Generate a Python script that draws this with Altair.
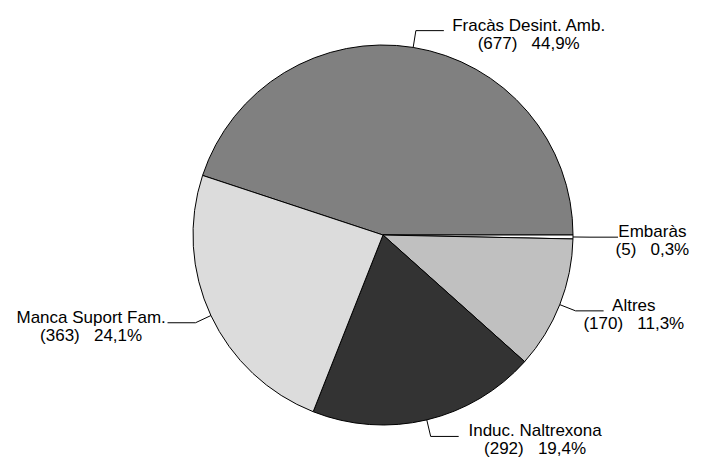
import math
import altair as alt
import pandas as pd

# ---- data ----
names = ["Fracàs Desint. Amb.", "Embaràs", "Altres", "Induc. Naltrexona", "Manca Suport Fam."]
counts = [677, 5, 170, 292, 363]
pcts = [44.9, 0.3, 11.3, 19.4, 24.1]
colors = ["#808080", "#ffffff", "#c0c0c0", "#333333", "#dcdcdc"]

line2 = [f"({n})" + "\u00a0" * 3 + f"{p:.1f}".replace(".", ",") + "%" for n, p in zip(counts, pcts)]
df = pd.DataFrame({"name": names, "n": counts, "pct": pcts, "line2": line2, "idx": list(range(len(names)))})

# ---- layout parameters ----
total = sum(counts)
START = math.pi / 2 - 2 * math.pi * counts[0] / total + 2 * math.pi  # first slice ends at 3 o'clock
CX, CY, R = 375, 227, 190
R1 = 207     # elbow radius of leader lines
H = 28       # horizontal leader segment
GAP = 5
CW = 8.4     # estimated average character width (px)
LINE = 18

base = alt.Chart(df)

pie = base.mark_arc(outerRadius=R, stroke="black", strokeWidth=1).encode(
    theta=alt.Theta("n:Q", stack=True, scale=alt.Scale(range=[START, START + 2 * math.pi])),
    color=alt.Color("name:N", scale=alt.Scale(domain=names, range=colors), legend=None),
    order=alt.Order("idx:Q"),
    x=alt.value(CX),
    y=alt.value(CY),
)

geo = (
    base.transform_joinaggregate(tot="sum(n)")
    .transform_window(cum="sum(n)", sort=[alt.SortField("idx")], frame=[None, 0])
    .transform_calculate(
        mid=f"{START} + 2*PI*(datum.cum - datum.n/2)/datum.tot",
        side="sin(datum.mid) >= 0 ? 1 : -1",
        x0=f"{CX} + {R}*sin(datum.mid)",
        y0=f"{CY} - {R}*cos(datum.mid)",
        x1=f"{CX} + {R1}*sin(datum.mid)",
        y1=f"{CY} - {R1}*cos(datum.mid)",
        x2=f"datum.x1 + datum.side*{H}",
        tx=f"datum.x2 + datum.side*({GAP} + length(datum.name)*{CW}/2)",
        ty2=f"datum.y1 + {LINE}",
    )
)

rule1 = geo.mark_rule(color="black", strokeWidth=1).encode(
    x=alt.X("x0:Q", scale=None), y=alt.Y("y0:Q", scale=None), x2="x1:Q", y2="y1:Q"
)
rule2 = geo.mark_rule(color="black", strokeWidth=1).encode(
    x=alt.X("x1:Q", scale=None), y=alt.Y("y1:Q", scale=None), x2="x2:Q", y2="y1:Q"
)

txt_style = dict(font="Liberation Sans", fontSize=17, align="center", baseline="alphabetic", color="black")
t1 = geo.mark_text(**txt_style).encode(
    x=alt.X("tx:Q", scale=None), y=alt.Y("y1:Q", scale=None), text="name:N"
)
t2 = geo.mark_text(**txt_style).encode(
    x=alt.X("tx:Q", scale=None), y=alt.Y("ty2:Q", scale=None), text="line2:N"
)

chart = (
    alt.layer(pie, rule1, rule2, t1, t2)
    .properties(width=688, height=449, padding=0, autosize="none", background="white")
    .configure_view(strokeWidth=0)
)

chart.save("out.html", embed_options={"renderer": "svg", "actions": False})
